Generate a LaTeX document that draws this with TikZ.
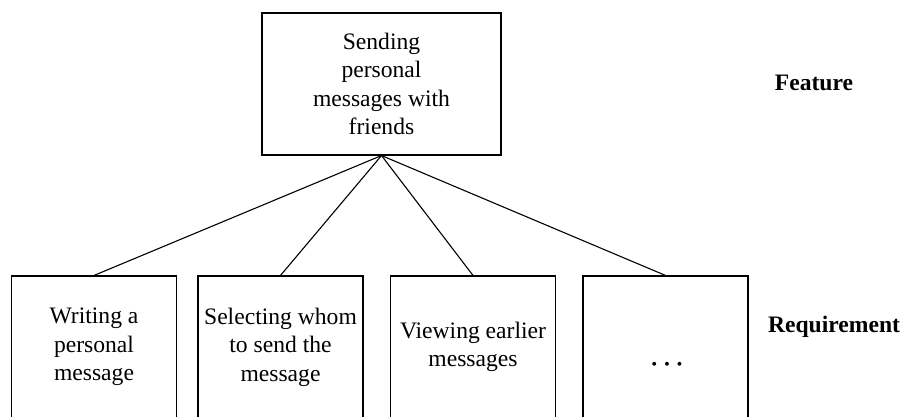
\documentclass[tikz,border=0pt]{standalone}
\usepackage{fontspec}
\setmainfont{Liberation Serif}
\begin{document}
\begin{tikzpicture}[x=1pt,y=-1pt,
  box/.style={draw, line width=1.1pt, rectangle, inner sep=0pt,
    minimum width=165pt, minimum height=142pt, align=center,
    font=\fontsize{23.6}{28.5}\selectfont},
  level/.style={font=\fontsize{23.6}{28}\selectfont\bfseries},
  link/.style={line width=1.1pt}]
  \useasboundingbox (0,0) rectangle (909,417);
  \clip (0,0) rectangle (909,417);
  % feature
  \node[box, minimum width=239pt] (feat) at (381.5,84)
    {Sending\\personal\\messages with\\friends};
  % requirements
  \node[box] (r1) at (94,347) {Writing a\\personal\\message};
  \node[box] (r2) at (280.5,347) {Selecting whom\\to send the\\message};
  \node[box] (r3) at (473,347) {Viewing earlier\\messages};
  \node[box] (r4) at (665.5,347) {};
  \node[font=\fontsize{23.6}{28}\selectfont\boldmath] (dots) at (667,365) {$\cdots$};
  % level labels
  \node[level] (lf) at (814,83) {Feature};
  \node[level] (lr) at (834,327) {Requirement};
  % connectors
  \draw[link] (feat.south) -- (r1.north);
  \draw[link] (feat.south) -- (r2.north);
  \draw[link] (feat.south) -- (r3.north);
  \draw[link] (feat.south) -- (r4.north);
\end{tikzpicture}
\end{document}
